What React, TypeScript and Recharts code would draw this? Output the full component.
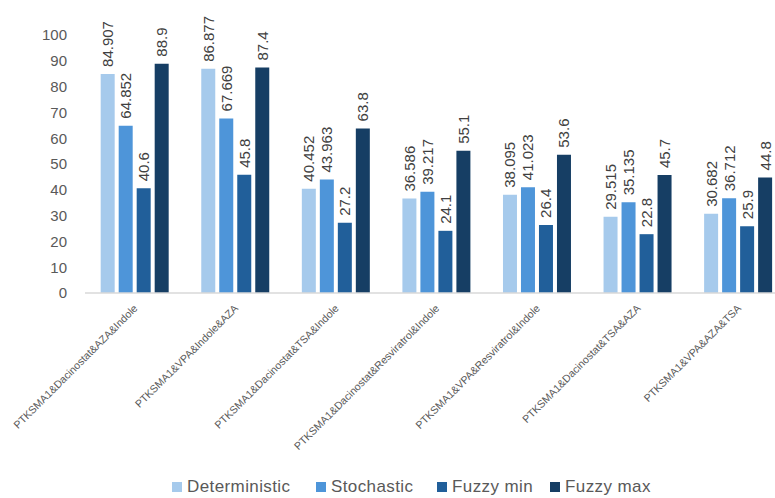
import { Bar, BarChart, Legend, XAxis, YAxis } from "recharts";

const combos = [
  "PTKSMA1&Dacinostat&AZA&Indole",
  "PTKSMA1&VPA&Indole&AZA",
  "PTKSMA1&Dacinostat&TSA&Indole",
  "PTKSMA1&Dacinostat&Resviratrol&Indole",
  "PTKSMA1&VPA&Resviratrol&Indole",
  "PTKSMA1&Dacinostat&TSA&AZA",
  "PTKSMA1&VPA&AZA&TSA",
];

const deterministic = [84.907, 86.877, 40.452, 36.586, 38.095, 29.515, 30.682];
const stochastic = [64.852, 67.669, 43.963, 39.217, 41.023, 35.135, 36.712];
const fuzzyMin = [40.6, 45.8, 27.2, 24.1, 26.4, 22.8, 25.9];
const fuzzyMax = [88.9, 87.4, 63.8, 55.1, 53.6, 45.7, 44.8];

const yTicks = [0, 10, 20, 30, 40, 50, 60, 70, 80, 90, 100];

const data = combos.map((name, i) => ({
  name,
  deterministic: deterministic[i],
  stochastic: stochastic[i],
  fuzzyMin: fuzzyMin[i],
  fuzzyMax: fuzzyMax[i],
}));

const series = [
  { key: "deterministic", label: "Deterministic", color: "#A6CAEC", slot: 144 },
  { key: "stochastic", label: "Stochastic", color: "#4E95D9", slot: 121 },
  { key: "fuzzyMin", label: "Fuzzy min", color: "#215F9A", slot: 113 },
  { key: "fuzzyMax", label: "Fuzzy max", color: "#163E64", slot: 100 },
];

const FONT = "Liberation Sans, Arial, sans-serif";

// eslint-disable-next-line @typescript-eslint/no-explicit-any
function ValueLabel({ x, y, width, value }: any) {
  const cx = Number(x) + Number(width) / 2;
  const top = Number(y) - 7;
  return (
    <text
      x={cx}
      y={top}
      transform={`rotate(-90 ${cx} ${top})`}
      textAnchor="start"
      dominantBaseline="central"
      fontSize={15}
      fill="#404040"
      fontFamily={FONT}
    >
      {value}
    </text>
  );
}

// eslint-disable-next-line @typescript-eslint/no-explicit-any
function ComboTick({ x, y, payload }: any) {
  return (
    <g transform={`translate(${x + 3},${y + 8})`}>
      <text
        transform="rotate(-45)"
        textAnchor="end"
        fontSize={10.6}
        fill="#595959"
        fontFamily={FONT}
      >
        {payload.value}
      </text>
    </g>
  );
}

// legend keeps series order instead of sorting by name
function SeriesLegend() {
  return (
    <div
      style={{
        display: "flex",
        justifyContent: "flex-start",
        paddingLeft: 172,
        paddingTop: 4,
        fontFamily: FONT,
        fontSize: 17,
        letterSpacing: 0.4,
        color: "#595959",
      }}
    >
      {series.map((s) => (
        <div key={s.key} style={{ display: "flex", alignItems: "center", width: s.slot }}>
          <span style={{ width: 10, height: 10, background: s.color, marginRight: 5, flex: "none" }} />
          <span style={{ whiteSpace: "nowrap" }}>{s.label}</span>
        </div>
      ))}
    </div>
  );
}

export default function App() {
  return (
    <div style={{ width: 775, height: 498, background: "#fff", overflow: "hidden" }}>
      <style>{"body{margin:0}"}</style>
      <BarChart
        width={789}
        height={498}
        data={data}
        margin={{ top: 35, right: 0, bottom: 1, left: 0 }}
        barCategoryGap="15.6%"
        barGap={4}
      >
        <XAxis
          dataKey="name"
          tick={<ComboTick />}
          tickLine={false}
          axisLine={{ stroke: "#D9D9D9", strokeWidth: 1.5 }}
          interval={0}
          height={180}
        />
        <YAxis
          domain={[0, 100]}
          ticks={yTicks}
          width={85}
          axisLine={false}
          tickLine={false}
          tickMargin={12}
          tick={{ fontSize: 15, fill: "#595959", fontFamily: FONT }}
          interval={0}
        />
        <Legend verticalAlign="bottom" content={<SeriesLegend />} />
        {series.map((s) => (
          <Bar
            key={s.key}
            dataKey={s.key}
            name={s.label}
            fill={s.color}
            isAnimationActive={false}
            label={<ValueLabel />}
          />
        ))}
      </BarChart>
    </div>
  );
}
